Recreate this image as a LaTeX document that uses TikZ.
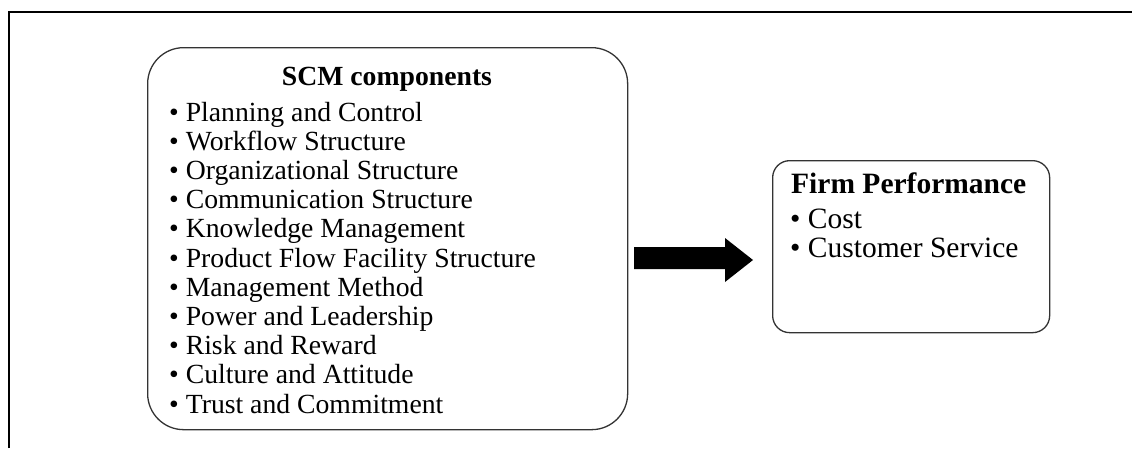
\documentclass[tikz,border=0pt]{standalone}
\usepackage{fontspec}
\setmainfont{Liberation Serif}
\begin{document}
\begin{tikzpicture}[x=1pt,y=-1pt,
  box/.style={draw=black!80,line width=1.3pt,anchor=north west,inner sep=0pt},
  ltext/.style={anchor=base west,inner sep=0pt,font=\fontsize{27.7}{29}\selectfont},
  ltitle/.style={anchor=base,inner sep=0pt,font=\fontsize{27.7}{29}\selectfont\bfseries},
  rtext/.style={anchor=base west,inner sep=0pt,font=\fontsize{29.5}{29}\selectfont},
  rtitle/.style={anchor=base west,inner sep=0pt,font=\fontsize{29.5}{29}\selectfont\bfseries}]
\path[use as bounding box] (0,0) rectangle (1132,448);
% outer frame (partly cut off)
\draw[line width=2pt] (9,448) -- (9,12) -- (1132,12);
% left box
\node[box,rounded corners=36pt,minimum width=480pt,minimum height=382pt] (scm) at (147,47) {};
\node[ltitle] (scmt) at (387,85) {SCM components};
\foreach \t [count=\i] in {Planning and Control,Workflow Structure,Organizational Structure,Communication Structure,Knowledge Management,Product Flow Facility Structure,Management Method,Power and Leadership,Risk and Reward,Culture and Attitude,Trust and Commitment}
  \node[ltext] (item\i) at (169,{121+29.2*(\i-1)}) {\textbullet\ \t};
% right box
\node[box,rounded corners=17pt,minimum width=277pt,minimum height=172pt] (fp) at (772,160) {};
\node[rtitle] (fpt) at (791,193) {Firm Performance};
\node[rtext] (fp1) at (790,228) {\textbullet\ Cost};
\node[rtext] (fp2) at (790,257) {\textbullet\ Customer Service};
% block arrow
\coordinate (as) at (scm.east);
\fill[black] (634,247) -- (725,247) -- (725,238) -- (753,260) -- (725,282) -- (725,269) -- (634,269) -- cycle;
\end{tikzpicture}
\end{document}
